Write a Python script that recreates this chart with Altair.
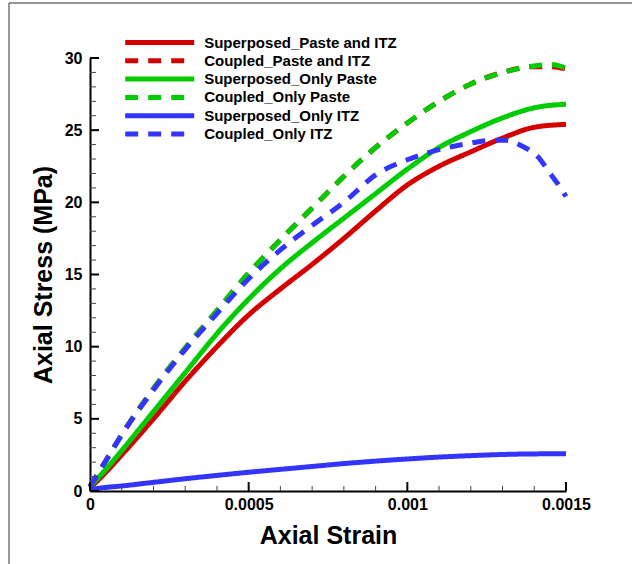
import altair as alt
import pandas as pd

# ---------------- data ----------------
series_names = [
    "Superposed_Paste and ITZ",
    "Coupled_Paste and ITZ",
    "Superposed_Only Paste",
    "Coupled_Only Paste",
    "Superposed_Only ITZ",
    "Coupled_Only ITZ",
]

strain_sup = [0, 0.00005, 0.0001, 0.0002, 0.0003, 0.0004, 0.0005, 0.0006, 0.0007,
              0.0008, 0.0009, 0.001, 0.0011, 0.0012, 0.0013, 0.0014, 0.0015]
sup_paste_itz = [0.2, 1.3, 2.5, 5.0, 7.6, 10.0, 12.2, 14.0, 15.7, 17.5, 19.4, 21.2,
                 22.5, 23.5, 24.45, 25.2, 25.4]
sup_paste = [0.3, 1.5, 2.8, 5.5, 8.2, 10.9, 13.3, 15.4, 17.2, 18.9, 20.6, 22.3,
             23.8, 24.9, 25.85, 26.55, 26.8]
sup_itz = [0.1, 0.25, 0.35, 0.6, 0.85, 1.08, 1.3, 1.5, 1.7, 1.9, 2.07, 2.22,
           2.35, 2.45, 2.53, 2.57, 2.58]

strain_coup = [0, 0.00005, 0.0001, 0.0002, 0.0003, 0.0004, 0.0005, 0.0006, 0.0007,
               0.0008, 0.0009, 0.001, 0.0011, 0.0012, 0.0013, 0.0014, 0.00145, 0.0015]
coup_paste_itz = [0.3, 2.1, 3.9, 7.1, 9.9, 12.5, 15.1, 17.4, 19.6, 21.8, 23.8, 25.5,
                  27.0, 28.2, 29.0, 29.4, 29.4, 29.25]
coup_paste = [0.3, 2.1, 3.9, 7.1, 9.9, 12.5, 15.1, 17.4, 19.6, 21.8, 23.8, 25.5,
              27.0, 28.2, 29.0, 29.45, 29.55, 29.3]

strain_coup_itz = [0, 0.00005, 0.0001, 0.0002, 0.0003, 0.0004, 0.0005, 0.0006, 0.0007,
                   0.0008, 0.0009, 0.001, 0.0011, 0.0012, 0.00127, 0.00131, 0.00137,
                   0.00141, 0.00145, 0.00148, 0.0015]
coup_itz = [0.3, 2.1, 3.9, 7.0, 9.8, 12.3, 14.7, 16.7, 18.4, 20.0, 21.9, 22.95,
            23.65, 24.1, 24.3, 24.3, 23.8, 23.2, 22.0, 21.1, 20.4]

x_major = [0, 0.0005, 0.001, 0.0015]
x_minor = [0.0001, 0.0002, 0.0003, 0.0004, 0.0006, 0.0007, 0.0008, 0.0009,
           0.0011, 0.0012, 0.0013, 0.0014]
y_major = [0, 5, 10, 15, 20, 25, 30]
y_minor = [1, 2, 3, 4, 6, 7, 8, 9, 11, 12, 13, 14, 16, 17, 18, 19,
           21, 22, 23, 24, 26, 27, 28, 29]

# ---------------- styles ----------------
colors = ["#d40000", "#d40000", "#00cc00", "#00cc00", "#3434ff", "#3434ff"]
dashes = [[1, 0], [13, 10], [1, 0], [13, 10], [1, 0], [13, 10]]
FONT = "Liberation Sans"
PLOT_W, PLOT_H = 476, 433

rows = []
for name, xs, ys in [
    (series_names[0], strain_sup, sup_paste_itz),
    (series_names[1], strain_coup, coup_paste_itz),
    (series_names[2], strain_sup, sup_paste),
    (series_names[3], strain_coup, coup_paste),
    (series_names[4], strain_sup, sup_itz),
    (series_names[5], strain_coup_itz, coup_itz),
]:
    for xv, yv in zip(xs, ys):
        rows.append({"series": name, "strain": xv, "stress": yv})
df = pd.DataFrame(rows)

x_scale = alt.Scale(domain=[0, 0.0015], nice=False, zero=False)
y_scale = alt.Scale(domain=[0, 30], nice=False)

x_axis = alt.Axis(values=x_major, format="~g", title="Axial Strain",
                  ticks=False, tickSize=0, grid=False, domainColor="black",
                  domainWidth=2, labelFont=FONT, labelFontSize=16,
                  labelFontWeight="bold", labelColor="black", labelPadding=5,
                  labelFlush=False, labelOverlap=False,
                  titleFont=FONT, titleFontSize=25, titleFontWeight="bold",
                  titleColor="black", titleBaseline="alphabetic", titleY=52)
y_axis = alt.Axis(values=y_major, title="Axial Stress (MPa)",
                  ticks=False, tickSize=0, grid=False, domainColor="black",
                  domainWidth=2, labelFont=FONT, labelFontSize=16,
                  labelFontWeight="bold", labelColor="black", labelPadding=8,
                  labelOverlap=False,
                  titleFont=FONT, titleFontSize=25, titleFontWeight="bold",
                  titleColor="black", titleAngle=270, titleAlign="center",
                  titleBaseline="alphabetic", titleX=-38.5)

legend = alt.Legend(
    orient="none", legendX=32.7, legendY=-24.5, title=None,
    symbolType="stroke", symbolSize=4761, symbolStrokeWidth=5, clipHeight=18,
    labelFont=FONT, labelFontSize=15, labelFontWeight="bold", labelColor="black",
    labelLimit=400, labelOffset=7.5, rowPadding=0.3, padding=0,
)

lines = alt.Chart(df).mark_line(strokeWidth=5, strokeCap="butt", strokeJoin="round",
                                interpolate="monotone").encode(
    x=alt.X("strain:Q", scale=x_scale, axis=x_axis),
    y=alt.Y("stress:Q", scale=y_scale, axis=y_axis),
    color=alt.Color("series:N", scale=alt.Scale(domain=series_names, range=colors),
                    legend=legend),
    strokeDash=alt.StrokeDash("series:N", scale=alt.Scale(domain=series_names, range=dashes),
                              legend=legend),
    order=alt.Order("strain:Q"),
)

# inward tick marks on the bottom axis
xmaj = alt.Chart(pd.DataFrame({"v": x_major})).mark_rule(
    color="black", strokeWidth=2).encode(
    x=alt.X("v:Q", scale=x_scale, axis=None),
    y=alt.value(PLOT_H), y2=alt.value(PLOT_H - 9))
xmin = alt.Chart(pd.DataFrame({"v": x_minor})).mark_rule(
    color="#444", strokeWidth=1).encode(
    x=alt.X("v:Q", scale=x_scale, axis=None),
    y=alt.value(PLOT_H), y2=alt.value(PLOT_H - 5))
# inward tick marks on the left axis
ymaj = alt.Chart(pd.DataFrame({"v": y_major})).mark_rule(color="black", strokeWidth=2).encode(
    y=alt.Y("v:Q", scale=y_scale, axis=None), x=alt.value(0), x2=alt.value(9))
ymin = alt.Chart(pd.DataFrame({"v": y_minor})).mark_rule(color="#444", strokeWidth=1).encode(
    y=alt.Y("v:Q", scale=y_scale, axis=None), x=alt.value(0), x2=alt.value(6))

frame_df = pd.DataFrame({"k": [0]})
frame_left = alt.Chart(frame_df).mark_rule(color="#333", strokeWidth=1).encode(
    x=alt.value(-81), y=alt.value(-55), y2=alt.value(510))
frame_top = alt.Chart(frame_df).mark_rule(color="#333", strokeWidth=1).encode(
    x=alt.value(-81), x2=alt.value(545), y=alt.value(-55))

chart = alt.layer(lines, ymin, xmin, xmaj, ymaj, frame_left, frame_top).resolve_axis(
    x="independent", y="independent"
).properties(
    width=PLOT_W, height=PLOT_H,
    autosize=alt.AutoSizeParams(type="none"),
    padding={"left": 90, "top": 58, "right": 66, "bottom": 73},
    background="white",
).configure_view(stroke=None)

chart.save("out.html", embed_options={"renderer": "svg", "actions": False})
